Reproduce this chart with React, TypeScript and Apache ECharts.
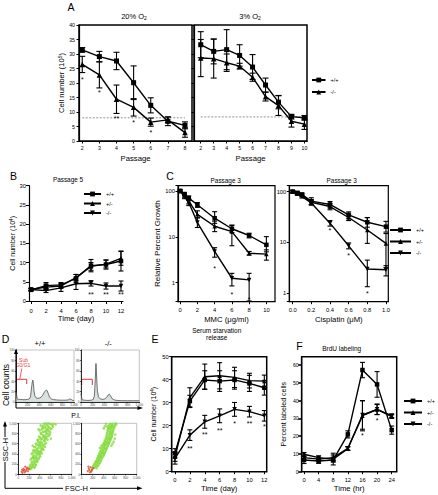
import React, { useEffect, useRef } from "react";
import * as echarts from "echarts";

const FONT = "'Liberation Sans', Arial, Helvetica, sans-serif";
const BLK = "#000";

// ---------------- Panel A ----------------
const passage20 = [2, 3, 4, 5, 6, 7, 8];
const a20WT = [31.4, 29.1, 27.6, 20.1, 12.3, 6.8, 5.4];
const a20WTerr = [0.8, 1.8, 3.0, 5.8, 2.6, 1.5, 1.2];
const a20KO = [26.4, 22.8, 14.4, 11.6, 6.5, 7.3, 2.9];
const a20KOerr = [2.8, 4.5, 4.9, 3.0, 1.4, 1.0, 1.6];
const a20Stars = [[2, 21.6, 1], [3, 17.2, 1], [4, 8.2, 2], [5, 6.8, 1], [6, 3.4, 1]];
const a20Cutoff = 8.0;

const passage3 = [2, 3, 4, 5, 6, 7, 8, 9, 10];
const a3WT = [33.2, 30.9, 31.5, 29.5, 25.5, 19.3, 13.4, 8.4, 8.0];
const a3WTerr = [4.5, 4.3, 6.9, 3.7, 4.3, 2.4, 2.3, 0.8, 0.8];
const a3KO = [28.6, 28.4, 27.0, 25.8, 22.0, 15.3, 12.2, 6.8, 5.8];
const a3KOerr = [6.4, 6.7, 3.0, 1.0, 1.4, 1.5, 3.4, 2.0, 1.8];
const a3Cutoff = 8.3;

// ---------------- Panel B ----------------
const days = [0, 2, 4, 6, 8, 10, 12];
const bWT = [2.9, 4.0, 4.2, 5.9, 9.2, 9.5, 10.4];
const bWTerr = [0.3, 0.8, 0.6, 1.0, 1.6, 1.2, 2.6];
const bHet = [3.0, 3.6, 3.9, 6.1, 9.0, 9.6, 11.1];
const bHetErr = [0.3, 0.6, 0.6, 0.8, 1.0, 1.0, 1.8];
const bKO = [3.0, 2.7, 3.4, 4.5, 4.6, 3.9, 3.9];
const bKOerr = [0.3, 0.5, 0.9, 1.5, 0.7, 0.8, 1.3];
const bStars = [[8, 2.2, 2], [10, 2.2, 2], [12, 2.2, 2]];

// ---------------- Panel C ----------------
const mmcDose = [0, 0.5, 1, 2, 4, 6, 8, 10];
const mmcTicks = [0, 2, 4, 6, 8, 10];
const mmcWT = [100, 86, 70, 50, 25.5, 15, 10.7, 6.7];
const mmcWTlo = [95, 80, 62, 44, 19.7, 12.5, 9.5, 4.7];
const mmcWThi = [105, 92, 78, 56, 35.4, 17.8, 12, 10.1];
const mmcHet = [100, 80, 60, 31, 17, 13, 4.4, 4.2];
const mmcHetLo = [95, 74, 52, 26, 13, 6.4, 4.0, 3.1];
const mmcHetHi = [105, 86, 68, 37, 22, 18, 4.8, 5.2];
const mmcKOdose = [0, 0.5, 1, 2, 4, 6, 8];
const mmcKO = [100, 75, 56, 20.5, 4.8, 1.25, 1.15];
const mmcKOlo = [95, 68, 48, 16, 3.6, 0.85, 0.4];
const mmcKOhi = [105, 82, 64, 26, 5.8, 1.6, 1.6];
const mmcStars = [[4, 2.2, 1], [6, 0.6, 1], [8, 0.46, 1]];

const cisDose = [0, 0.05, 0.1, 0.2, 0.4, 0.6, 0.8, 1.0];
const cisTicks = [0, 0.2, 0.4, 0.6, 0.8, 1.0];
const cisWT = [100, 95, 88, 65, 56, 35, 25, 20.5];
const cisWTlo = [95, 90, 82, 55, 48, 30, 20, 16];
const cisWThi = [105, 100, 94, 76, 64, 40, 31, 26];
const cisHet = [100, 92, 85, 62, 51, 31, 17.6, 9.6];
const cisHetLo = [95, 87, 80, 55, 44, 27, 9.6, 3.2];
const cisHetHi = [105, 97, 90, 70, 58, 36, 30.8, 15];
const cisKO = [100, 90, 80, 60, 24, 8.6, 3.0, 2.9];
const cisKOlo = [95, 85, 75, 55, 21, 7.5, 1.35, 2.2];
const cisKOhi = [105, 95, 85, 66, 27, 9.8, 4.5, 3.5];
const cisStars = [[0.4, 18.2, 1], [0.6, 5.9, 1], [0.8, 1.05, 1]];

// ---------------- Panel D ----------------
const piTicks = [0, 200, 400, 600, 800, 1000];
const countTicks = [0, 20, 40, 60, 80, 100];
const histWT = [
  [0, 20], [10, 14], [20, 6], [40, 5], [80, 5], [120, 4.5], [160, 4.5], [200, 5], [230, 6], [250, 10],
  [265, 25], [280, 38], [290, 42], [300, 36], [310, 22], [325, 12], [345, 8], [370, 7], [400, 7.5],
  [430, 9], [460, 13], [490, 19], [510, 22], [525, 23], [540, 21], [560, 15], [580, 9], [610, 6],
  [650, 4.5], [700, 4], [750, 3.5], [800, 3.5], [850, 3.5], [900, 4], [930, 6], [950, 5], [980, 3], [1000, 3],
];
const histKO = [
  [0, 16], [10, 10], [20, 4], [60, 3.5], [120, 3], [180, 3.5], [210, 5], [230, 12], [245, 45], [257, 74],
  [268, 50], [280, 22], [300, 10], [330, 6], [370, 5], [410, 6], [440, 9], [470, 14], [486, 15], [505, 12],
  [530, 7], [570, 4], [620, 3], [700, 2.5], [800, 2.5], [900, 2.5], [1000, 2.5],
];
const scatWTgreen = [
  [200, 120], [230, 100], [260, 140], [300, 130], [220, 170], [280, 190], [320, 200], [250, 230], [350, 240], [300, 260],
  [230, 290], [380, 300], [270, 320], [330, 330], [410, 350], [290, 370], [360, 390], [250, 400], [440, 410], [320, 430],
  [390, 450], [280, 470], [470, 480], [350, 500], [420, 510], [300, 530], [500, 540], [380, 560], [450, 580], [330, 600],
  [520, 610], [410, 630], [480, 650], [360, 670], [550, 680], [440, 700], [510, 720], [390, 740], [570, 750], [460, 770],
  [530, 790], [420, 810], [600, 820], [490, 840], [550, 860], [440, 880], [620, 890], [510, 910], [570, 930], [460, 950],
  [640, 960], [530, 975], [590, 990], [480, 990], [700, 980], [420, 960], [650, 930], [380, 880], [610, 700], [270, 560],
  [340, 280], [300, 330], [400, 420], [360, 470], [450, 520], [400, 600], [490, 690], [470, 740], [520, 850], [560, 900],
  [210, 140], [240, 120], [270, 160], [310, 150], [240, 190], [290, 210], [330, 180], [260, 250], [310, 240], [360, 260],
  [250, 310], [300, 300], [350, 310], [390, 330], [280, 350], [340, 360], [400, 380], [270, 420], [330, 410], [380, 410],
  [420, 440], [300, 460], [360, 440], [430, 470], [330, 480], [380, 520], [460, 500], [320, 540], [420, 550], [470, 560],
  [350, 580], [400, 580], [490, 590], [370, 630], [440, 620], [500, 660], [380, 680], [430, 680], [520, 700], [410, 720],
  [480, 730], [540, 740], [430, 790], [500, 760], [560, 800], [460, 830], [520, 820], [580, 850], [470, 900], [530, 880],
  [600, 900], [500, 940], [550, 950], [450, 920], [620, 980], [560, 1000], [510, 1000], [660, 990], [400, 860], [590, 780],
];
const scatWTred = [
  [60, 50], [90, 70], [120, 40], [150, 90], [100, 110], [180, 60], [130, 150], [70, 90], [200, 100], [160, 130],
  [80, 30], [110, 80], [140, 60], [170, 110],
];
const scatKOgreen = [
  [190, 110], [230, 130], [270, 120], [210, 160], [260, 180], [300, 170], [240, 210], [290, 230], [330, 220], [260, 260],
  [310, 280], [350, 270], [280, 310], [330, 330], [370, 320], [300, 360], [350, 380], [400, 370], [320, 410], [370, 430],
  [420, 420], [340, 460], [390, 480], [440, 470], [360, 510], [410, 530], [460, 520], [380, 560], [430, 580], [480, 570],
  [400, 610], [450, 630], [500, 620], [420, 660], [470, 680], [520, 670], [440, 710], [490, 730], [540, 720], [450, 760],
  [500, 780], [550, 770], [460, 810], [510, 830], [560, 820], [470, 860], [520, 880], [570, 870], [480, 910], [530, 930],
  [580, 920], [490, 960], [540, 980], [600, 960], [440, 990], [620, 1000], [400, 900], [600, 700], [330, 520], [560, 600],
  [280, 250], [340, 350], [390, 420], [430, 500], [470, 620], [510, 700], [530, 800], [500, 900], [560, 940], [410, 580],
  [200, 130], [250, 150], [220, 190], [280, 160], [270, 210], [310, 200], [250, 240], [300, 250], [340, 250], [280, 280],
  [320, 300], [360, 300], [300, 330], [350, 350], [390, 350], [320, 380], [370, 400], [410, 400], [340, 430], [390, 450],
  [430, 450], [360, 480], [410, 500], [450, 500], [380, 530], [430, 550], [470, 550], [400, 590], [450, 600], [490, 600],
  [420, 640], [470, 650], [510, 650], [440, 690], [490, 700], [530, 700], [460, 740], [510, 750], [550, 750], [470, 790],
  [520, 800], [560, 800], [480, 840], [530, 850], [570, 850], [490, 890], [540, 900], [590, 900], [510, 940], [550, 950],
  [600, 940], [520, 990], [570, 990], [460, 940], [630, 980], [420, 940], [580, 640], [540, 560], [360, 560], [610, 780],
];
const scatKOred = [
  [110, 60], [140, 80], [170, 50], [130, 110], [190, 90], [160, 140], [210, 120], [120, 150], [150, 40], [180, 70],
];

// ---------------- Panel E ----------------
const eWT = [8.0, 30.7, 39.9, 39.4, 39.9, 38.4, 36.5];
const eWTerr = [2.0, 2.5, 4.0, 4.5, 4.0, 3.5, 3.2];
const eHet = [6.5, 32.2, 41.3, 41.7, 41.0, 39.6, 39.4];
const eHetErr = [2.0, 4.3, 5.5, 5.7, 4.4, 3.2, 2.6];
const eKO = [5.8, 15.9, 21.7, 24.3, 27.1, 26.1, 24.3];
const eKOerr = [2.5, 2.3, 2.8, 3.0, 3.0, 2.3, 2.3];
const eStars = [[2, 10.9, 2], [4, 16.7, 2], [6, 18.5, 2], [8, 21.7, 1], [10, 21.4, 2], [12, 20.3, 1]];

// ---------------- Panel F ----------------
const hours = [0, 4, 8, 12, 16, 20, 24];
const fTicks = [0, 10, 20, 30, 40, 50, 60];
const fWT = [6.6, 6.0, 6.6, 21.0, 57.2, 49.1, 23.4];
const fWTerr = [2.0, 1.3, 2.8, 2.0, 4.3, 7.2, 2.3];
const fHet = [7.9, 7.1, 7.9, 13.1, 31.5, 35.0, 31.0];
const fHetErr = [1.5, 1.0, 2.5, 1.0, 8.5, 2.8, 1.0];
const fKO = [9.8, 7.9, 7.1, 13.0, 31.9, 35.1, 31.5];
const fKOerr = [1.0, 1.0, 1.0, 1.0, 8.0, 3.0, 1.0];
const fStars = [[16, 21, 1], [20, 29.6, 1]];

// ---------------- helpers ----------------
const pairs = (xs: number[], ys: number[]) => xs.map((x, i) => [x, ys[i]]);

function lineSeries(name: string, g: number, xs: number[], ys: number[], symbol: string, size: number, rotate = 0) {
  return {
    type: "line", name, xAxisIndex: g, yAxisIndex: g, data: pairs(xs, ys),
    symbol, symbolSize: size, symbolRotate: rotate, showSymbol: true,
    lineStyle: { color: BLK, width: 1.4 }, itemStyle: { color: BLK }, z: 4, silent: true,
  };
}

function errSeries(g: number, xs: number[], lo: number[], hi: number[], cap = 2.5) {
  return {
    type: "custom", xAxisIndex: g, yAxisIndex: g, silent: true, z: 3,
    data: xs.map((x, i) => [x, lo[i], hi[i]]),
    encode: { x: 0, y: [1, 2] },
    renderItem: (_p: any, api: any) => {
      const x = api.value(0);
      const a = api.coord([x, api.value(1)]);
      const b = api.coord([x, api.value(2)]);
      const style = { stroke: BLK, lineWidth: 1.1 };
      return {
        type: "group",
        children: [
          { type: "line", shape: { x1: a[0], y1: a[1], x2: b[0], y2: b[1] }, style },
          { type: "line", shape: { x1: a[0] - cap, y1: a[1], x2: a[0] + cap, y2: a[1] }, style },
          { type: "line", shape: { x1: b[0] - cap, y1: b[1], x2: b[0] + cap, y2: b[1] }, style },
        ],
      };
    },
  };
}

function errSym(g: number, xs: number[], m: number[], e: number[], cap = 2.5) {
  return errSeries(g, xs, m.map((v, i) => v - e[i]), m.map((v, i) => v + e[i]), cap);
}

function starSeries(g: number, pts: number[][], fs = 7) {
  return {
    type: "custom", xAxisIndex: g, yAxisIndex: g, silent: true, z: 5,
    data: pts, encode: { x: 0, y: 1 },
    renderItem: (_p: any, api: any) => {
      const p = api.coord([api.value(0), api.value(1)]);
      return {
        type: "text", x: p[0], y: p[1] + 1.5,
        style: { text: "*".repeat(api.value(2)), fontSize: fs, fontFamily: FONT, fill: BLK, align: "center", verticalAlign: "middle" },
      };
    },
  };
}

function dashSeries(g: number, x0: number, x1: number, y: number) {
  return {
    type: "line", xAxisIndex: g, yAxisIndex: g, data: [[x0, y], [x1, y]], symbol: "none", silent: true, z: 2,
    lineStyle: { color: "#777", width: 0.8, type: [2, 1.5] },
  };
}

function ax(g: number, o: any) {
  const fs = o.fs ?? 5.8;
  const a: any = {
    type: o.log ? "log" : "value", gridIndex: g, min: o.min, max: o.max,
    axisLine: { show: true, onZero: false, lineStyle: { color: BLK, width: o.lw ?? 1.2 } },
    axisTick: { show: o.tick ?? true, length: o.tickLen ?? 2.5, lineStyle: { color: BLK, width: o.tickW ?? 1 } },
    axisLabel: {
      show: o.labels ?? true, fontSize: fs, color: o.labelColor ?? BLK, fontFamily: FONT, margin: o.margin ?? 3,
      showMinLabel: o.showMin ?? true, showMaxLabel: o.showMax ?? true,
    },
    splitLine: { show: false },
  };
  if (o.log) a.logBase = 10;
  if (o.interval != null) a.interval = o.interval;
  if (o.ticks) {
    a.axisTick.customValues = o.ticks;
    a.axisLabel.customValues = o.ticks;
  }
  if (o.formatter) a.axisLabel.formatter = o.formatter;
  if (o.name) {
    a.name = o.name;
    a.nameLocation = "middle";
    a.nameGap = o.nameGap;
    a.nameTextStyle = { fontSize: o.nameFs ?? 7.7, fontFamily: FONT, color: BLK, rich: { sup: { fontSize: (o.nameFs ?? 7.7) * 0.65, verticalAlign: "top", fontFamily: FONT } } };
    if (o.nameRotate != null) a.nameRotate = o.nameRotate;
  }
  return a;
}

const logFmt = (v: number) => {
  const l = Math.log10(v);
  return Math.abs(l - Math.round(l)) < 1e-6 ? String(Math.round(v)) : "";
};

function txt(text: string, x: number, y: number, fontSize: number, extra: any = {}, rotation = 0) {
  return {
    type: "text", x, y, rotation, silent: true,
    style: { text, fontSize, fontFamily: FONT, fill: BLK, align: "center", verticalAlign: "middle", ...extra },
  };
}
const ln = (x1: number, y1: number, x2: number, y2: number, stroke = BLK, lineWidth = 1) => ({
  type: "line", silent: true, shape: { x1, y1, x2, y2 }, style: { stroke, lineWidth },
});
const tri = (pts: number[][]) => ({ type: "polygon", silent: true, shape: { points: pts }, style: { fill: BLK } });

function buildOption() {
  const boxA = { show: true, borderColor: BLK, borderWidth: 1.5, backgroundColor: "transparent" };
  const boxC = { show: true, borderColor: BLK, borderWidth: 1.2, backgroundColor: "transparent" };
  const boxD = { show: true, borderColor: "#9a9a9a", borderWidth: 0.6, backgroundColor: "transparent" };
  const grid = [
    { left: 79, top: 25, width: 113, height: 116, ...boxA },
    { left: 194, top: 25, width: 113, height: 116, ...boxA },
    { left: 29, top: 185.7, width: 94, height: 115.3, show: false },
    { left: 178, top: 185.7, width: 97, height: 116, ...boxC },
    { left: 289.3, top: 185.7, width: 99, height: 116, ...boxC },
    { left: 171.7, top: 356.7, width: 95, height: 115, ...boxA },
    { left: 301.7, top: 356.7, width: 95, height: 115, ...boxA },
    { left: 16, top: 350, width: 58, height: 52, ...boxD },
    { left: 81, top: 350, width: 58.3, height: 52, ...boxD },
    { left: 18.3, top: 423.3, width: 53.4, height: 51, ...boxD },
    { left: 81.7, top: 423.3, width: 55, height: 51, ...boxD },
  ].map((g) => ({ ...g, containLabel: false, outerBoundsMode: "none" }));

  const dTick = { fs: 3, labelColor: "#444", tickLen: 1.2, tickW: 0.6, lw: 0.8, margin: 1.5 };

  const xAxis = [
    ax(0, { min: 1.81, max: 8.41, ticks: passage20, fs: 5.2, margin: 4, name: "Passage", nameGap: 13.5 }),
    ax(1, { min: 1.48, max: 10.2, ticks: passage3, fs: 5.2, margin: 4, name: "Passage", nameGap: 13.5 }),
    ax(2, { min: -0.27, max: 12.27, ticks: days, margin: 7, tickLen: 3, name: "Time (day)", nameGap: 13 }),
    ax(3, { min: -0.25, max: 11, ticks: mmcTicks, margin: 5, name: "MMC (\u03bcg/ml)", nameGap: 14 }),
    ax(4, { min: -0.036, max: 1.025, ticks: cisTicks, margin: 5, formatter: (v: number) => v.toFixed(1), name: "Cisplatin (\u03bcM)", nameGap: 14 }),
    ax(5, { min: -0.44, max: 12.32, ticks: days, margin: 5, name: "Time (day)", nameGap: 13 }),
    ax(6, { min: -0.63, max: 25.37, ticks: hours, margin: 5, name: "Time (hr)", nameGap: 13 }),
    ax(7, { min: 0, max: 1000, ticks: piTicks, ...dTick }),
    ax(8, { min: 0, max: 1000, ticks: piTicks, ...dTick }),
    ax(9, { min: 0, max: 1000, ticks: piTicks, ...dTick }),
    ax(10, { min: 0, max: 1000, ticks: piTicks, ...dTick }),
  ];
  const yAxis = [
    ax(0, { min: 0, max: 40, interval: 5, fs: 5.2, margin: 4, name: "Cell number (10{sup|5})", nameGap: 12.5 }),
    ax(1, { min: 0, max: 40, interval: 5, labels: false }),
    ax(2, { min: 0, max: 30, interval: 5, margin: 3, tickLen: 3, name: "Cell number (10{sup|4})", nameGap: 12, nameFs: 7 }),
    ax(3, { log: true, min: 0.385, max: 130.5, formatter: logFmt, margin: 3, name: "Relative Percent Growth", nameGap: 10.5, nameFs: 8 }),
    ax(4, { log: true, min: 0.684, max: 131, formatter: logFmt, margin: 3 }),
    ax(5, { min: 0, max: 50, interval: 10, margin: 3, name: "Cell number (10{sup|4})", nameGap: 14.5, nameFs: 7 }),
    ax(6, { min: 0, max: 64.7, ticks: fTicks, margin: 3, tickLen: 3.5, tickW: 1.6, fs: 5.2, name: "Percent labeled cells", nameGap: 14.5, nameFs: 7 }),
    ax(7, { min: 0, max: 100, ticks: countTicks, ...dTick }),
    ax(8, { min: 0, max: 100, ticks: countTicks, ...dTick }),
    ax(9, { min: 0, max: 1000, ticks: piTicks, ...dTick }),
    ax(10, { min: 0, max: 1000, ticks: piTicks, ...dTick }),
  ];

  const series: any[] = [
    // A 20%
    lineSeries("+/+", 0, passage20, a20WT, "rect", 5),
    lineSeries("-/- ", 0, passage20, a20KO, "triangle", 5.5),
    errSym(0, passage20, a20WT, a20WTerr, 3),
    errSym(0, passage20, a20KO, a20KOerr, 3),
    dashSeries(0, passage20[0], passage20[passage20.length - 1], a20Cutoff),
    starSeries(0, a20Stars),
    // A 3%
    lineSeries("+/+", 1, passage3, a3WT, "rect", 5),
    lineSeries("-/- ", 1, passage3, a3KO, "triangle", 5.5),
    errSym(1, passage3, a3WT, a3WTerr, 3),
    errSym(1, passage3, a3KO, a3KOerr, 3),
    dashSeries(1, passage3[0], passage3[passage3.length - 1], a3Cutoff),
    // B
    lineSeries("-/-", 2, days, bKO, "triangle", 4.5, 180),
    lineSeries("+/-", 2, days, bHet, "triangle", 4.5),
    lineSeries("+/+", 2, days, bWT, "rect", 4.5),
    errSym(2, days, bWT, bWTerr),
    errSym(2, days, bHet, bHetErr),
    errSym(2, days, bKO, bKOerr),
    starSeries(2, bStars),
    // C MMC
    lineSeries("+/+", 3, mmcDose, mmcWT, "rect", 4.5),
    lineSeries("+/-", 3, mmcDose, mmcHet, "triangle", 4.5),
    lineSeries("-/-", 3, mmcKOdose, mmcKO, "triangle", 4.5, 180),
    errSeries(3, mmcDose, mmcWTlo, mmcWThi),
    errSeries(3, mmcDose, mmcHetLo, mmcHetHi),
    errSeries(3, mmcKOdose, mmcKOlo, mmcKOhi),
    starSeries(3, mmcStars),
    // C cisplatin
    lineSeries("+/+", 4, cisDose, cisWT, "rect", 4.5),
    lineSeries("+/-", 4, cisDose, cisHet, "triangle", 4.5),
    lineSeries("-/-", 4, cisDose, cisKO, "triangle", 4.5, 180),
    errSeries(4, cisDose, cisWTlo, cisWThi),
    errSeries(4, cisDose, cisHetLo, cisHetHi),
    errSeries(4, cisDose, cisKOlo, cisKOhi),
    starSeries(4, cisStars),
    // E
    lineSeries("+/+", 5, days, eWT, "rect", 4.5),
    lineSeries("+/-", 5, days, eHet, "triangle", 4.5),
    lineSeries("-/-", 5, days, eKO, "triangle", 4.5, 180),
    errSym(5, days, eWT, eWTerr),
    errSym(5, days, eHet, eHetErr),
    errSym(5, days, eKO, eKOerr),
    starSeries(5, eStars),
    // F
    lineSeries("+/+", 6, hours, fWT, "rect", 4.5),
    lineSeries("+/-", 6, hours, fHet, "triangle", 4.5),
    lineSeries("-/-", 6, hours, fKO, "triangle", 4.5, 180),
    errSym(6, hours, fWT, fWTerr),
    errSym(6, hours, fHet, fHetErr),
    errSym(6, hours, fKO, fKOerr),
    starSeries(6, fStars),
    // D histograms
    {
      type: "line", xAxisIndex: 7, yAxisIndex: 7, data: histWT, symbol: "none", silent: true,
      lineStyle: { color: "#3a3a3a", width: 0.7 }, areaStyle: { color: "#c9d3d3" },
    },
    {
      type: "line", xAxisIndex: 8, yAxisIndex: 8, data: histKO, symbol: "none", silent: true,
      lineStyle: { color: "#3a3a3a", width: 0.7 }, areaStyle: { color: "#c9d3d3" },
    },
    // D scatter
    { type: "scatter", xAxisIndex: 9, yAxisIndex: 9, data: scatWTgreen, symbol: "circle", symbolSize: 2.6, silent: true, itemStyle: { color: "#84dc3c" } },
    { type: "scatter", xAxisIndex: 9, yAxisIndex: 9, data: scatWTred, symbol: "circle", symbolSize: 2, silent: true, itemStyle: { color: "#e0402c" } },
    { type: "scatter", xAxisIndex: 10, yAxisIndex: 10, data: scatKOgreen, symbol: "circle", symbolSize: 2.6, silent: true, itemStyle: { color: "#84dc3c" } },
    { type: "scatter", xAxisIndex: 10, yAxisIndex: 10, data: scatKOred, symbol: "circle", symbolSize: 2, silent: true, itemStyle: { color: "#e0402c" } },
  ];

  const legendBase = {
    orient: "vertical", selectedMode: false, padding: 0, itemHeight: 6,
    textStyle: { fontSize: 5.6, fontFamily: FONT, color: BLK, lineHeight: 6 },
  };
  const legend = [
    { ...legendBase, data: ["+/+", "-/- "], left: 311, top: 77, itemWidth: 13.5, itemGap: 6 },
    { ...legendBase, data: ["+/+", "+/-", "-/-"], left: 83, top: 191, itemWidth: 17, itemGap: 3.5 },
    { ...legendBase, data: ["+/+", "+/-", "-/-"], left: 389, top: 227, itemWidth: 21, itemGap: 5.5 },
    { ...legendBase, data: ["+/+", "+/-", "-/-"], left: 403, top: 398, itemWidth: 18, itemGap: 5.5 },
  ];

  const red = "#e8343c";
  const graphic = [
    // panel letters
    txt("A", 71, 6.5, 10.5),
    txt("B", 13.5, 176, 10.5),
    txt("C", 170, 176, 10.5),
    txt("D", 5.5, 339, 10.5),
    txt("E", 155, 339, 10.5),
    txt("F", 299.5, 346, 10.5),
    // titles
    txt("20% O{s|2}", 134, 16.7, 7.5, { rich: { s: { fontSize: 5, verticalAlign: "bottom", fontFamily: FONT } } }),
    txt("3% O{s|2}", 250, 16.7, 7.5, { rich: { s: { fontSize: 5, verticalAlign: "bottom", fontFamily: FONT } } }),
    txt("Passage 5", 68, 179, 6.4),
    txt("Passage 3", 225.7, 180, 6.4),
    txt("Passage 3", 341.7, 180, 6.4),
    txt("Serum starvation", 216.7, 330, 6.5),
    txt("release", 216.7, 337.7, 6.5),
    txt("BrdU labeling", 341.7, 348.3, 6.5),
    txt("+/+", 40, 343, 7.5),
    txt("-/-", 108.3, 343, 7.5),
    // D axes arrows and labels
    ln(16, 408, 16, 352),
    tri([[16, 348.5], [14, 354], [18, 354]]),
    ln(16, 408, 138, 408),
    tri([[143, 408], [137.5, 406], [137.5, 410]]),
    txt("Cell counts", 6, 385, 8.5, {}, Math.PI / 2),
    txt("P.I.", 76, 415, 7),
    ln(5, 488.3, 5, 462),
    ln(5, 437, 5, 426),
    tri([[5, 421], [3, 426.5], [7, 426.5]]),
    txt("SSC-H", 5, 449.5, 7.5, {}, Math.PI / 2),
    ln(5, 488.3, 63, 488.3),
    txt("FSC-H", 76.5, 488.3, 7.5),
    ln(90, 488.3, 137, 488.3),
    tri([[142.5, 488.3], [137, 486.3], [137, 490.3]]),
    // Sub G0/G1 annotation
    { type: "polyline", silent: true, shape: { points: [[16.5, 384], [16.5, 379.3], [26.7, 379.3], [26.7, 384]] }, style: { stroke: red, lineWidth: 1, fill: "none" } },
    ln(21.8, 368.5, 19.8, 379, red, 0.8),
    txt("Sub", 23.5, 359.5, 5, { fill: red }),
    txt("G0/G1", 23, 365, 5, { fill: red }),
    { type: "polyline", silent: true, shape: { points: [[81.7, 385], [81.7, 379.3], [92.3, 379.3], [92.3, 385]] }, style: { stroke: red, lineWidth: 1, fill: "none" } },
  ];

  return {
    animation: false,
    backgroundColor: "#fff",
    textStyle: { fontFamily: FONT },
    grid, xAxis, yAxis, series, legend, graphic,
  };
}

export default function App() {
  const ref = useRef<HTMLDivElement>(null);
  useEffect(() => {
    document.body.style.margin = "0";
    const chart = echarts.init(ref.current!, null, { renderer: "svg", width: 438, height: 495 });
    chart.setOption(buildOption() as any);
    return () => chart.dispose();
  }, []);
  return <div ref={ref} style={{ width: 438, height: 495 }} />;
}
